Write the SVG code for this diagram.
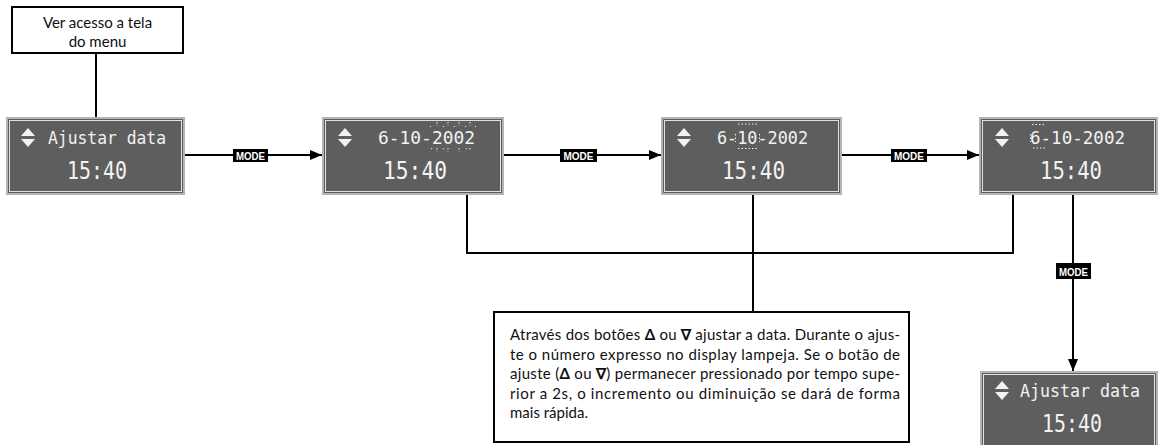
<svg xmlns="http://www.w3.org/2000/svg" width="1159" height="445" viewBox="0 0 1159 445">
<style>
.box{fill:#fff;stroke:#000;stroke-width:2}
.disp{fill:#5e5e5e;stroke:#b4b4b4;stroke-width:2}
.dispin{fill:none;stroke:#e2e2e2;stroke-width:1}
.lcd{font-family:"DejaVu Sans Mono",monospace;fill:#f2f2f2}
.l1{font-size:18px}
.l2{font-size:25px}
.line{fill:none;stroke:#000;stroke-width:2}
.mode{fill:#000}
.modet{font-family:"Liberation Sans",Arial,sans-serif;font-weight:bold;font-size:11px;fill:#fff}
.txt{font-family:Lato,"Open Sans",sans-serif;font-size:15px;fill:#111}
.note{font-family:Lato,"Open Sans",sans-serif;font-size:15px;fill:#111}
.blink{fill:none;stroke:#f2f2f2;stroke-width:1;stroke-dasharray:1.5 2}
.tri{fill:#f2f2f2}
</style>
<defs>
<marker id="ah" viewBox="0 0 12 10" refX="12" refY="5" markerWidth="12" markerHeight="10" markerUnits="userSpaceOnUse" orient="auto">
<path d="M0,0 L12,5 L0,10 Z" fill="#000"/>
</marker>
<g id="updown"><path class="tri" d="M0,8 L14,8 L7,0 Z M0,11 L14,11 L7,19 Z"/></g>
</defs>

<g id="connectors">
<path class="line" d="M96,53 V118"/>
<path class="line" d="M185,155 H322" marker-end="url(#ah)"/>
<path class="line" d="M504,155 H661" marker-end="url(#ah)"/>
<path class="line" d="M842,155 H979" marker-end="url(#ah)"/>
<path class="line" d="M467,194 V253 H1013 V194"/>
<path class="line" d="M753,194 V312"/>
<path class="line" d="M1073,194 V371" marker-end="url(#ah)"/>
<g id="mode1"><rect class="mode" x="233" y="149" width="35" height="13"/><text class="modet" x="250.5" y="160" text-anchor="middle" textLength="29" lengthAdjust="spacingAndGlyphs">MODE</text></g>
<g id="mode2"><rect class="mode" x="560" y="149" width="37" height="13"/><text class="modet" x="578.5" y="160" text-anchor="middle" textLength="30" lengthAdjust="spacingAndGlyphs">MODE</text></g>
<g id="mode3"><rect class="mode" x="891" y="149" width="36" height="13"/><text class="modet" x="909" y="160" text-anchor="middle" textLength="30" lengthAdjust="spacingAndGlyphs">MODE</text></g>
<g id="mode4"><rect class="mode" x="1056" y="263" width="35" height="16"/><text class="modet" x="1073.5" y="275.5" text-anchor="middle" textLength="29" lengthAdjust="spacingAndGlyphs">MODE</text></g>
</g>

<g id="n-menu">
<rect class="box" x="12" y="7" width="171" height="46"/>
<text class="txt" x="97.5" y="28" text-anchor="middle">Ver acesso a tela</text>
<text class="txt" x="97.5" y="47" text-anchor="middle">do menu</text>
</g>

<g id="d1">
<rect class="disp" x="7" y="118" width="177" height="76"/>
<rect class="dispin" x="9.5" y="120.5" width="172" height="71"/>
<use href="#updown" x="21" y="128"/>
<text class="lcd l1" x="48" y="144" textLength="118" lengthAdjust="spacingAndGlyphs">Ajustar data</text>
<text class="lcd l2" x="67" y="179" textLength="60" lengthAdjust="spacingAndGlyphs">15:40</text>
</g>

<g id="d2">
<rect class="disp" x="323" y="118" width="180" height="76"/>
<rect class="dispin" x="325.5" y="120.5" width="175" height="71"/>
<use href="#updown" x="338" y="128"/>
<text class="lcd l1" x="378" y="144" textLength="97" lengthAdjust="spacingAndGlyphs">6-10-2002</text>
<text class="lcd l2" x="383" y="179" textLength="64" lengthAdjust="spacingAndGlyphs">15:40</text>
<path class="blink" d="M430,126 l2,2 M437,122 v4 M444,126 l-2,2 M448,122 v4 M455,126 l-2,2 M459,122 v4 M466,126 l-2,2 M470,122 v4 M476,126 l-2,2 M432,148 l-2,3 M437,148 v4 M443,148 l2,3 M448,148 v4 M459,148 v4 M466,148 l2,3 M470,148 v3"/>
</g>

<g id="d3">
<rect class="disp" x="662" y="118" width="179" height="76"/>
<rect class="dispin" x="664.5" y="120.5" width="174" height="71"/>
<use href="#updown" x="677" y="128"/>
<text class="lcd l1" x="717" y="144" textLength="91" lengthAdjust="spacingAndGlyphs">6-10-2002</text>
<text class="lcd l2" x="722" y="179" textLength="63" lengthAdjust="spacingAndGlyphs">15:40</text>
<path class="blink" d="M738,124 H757 M738,148.5 H757 M735.5,134 v8 M759.5,134 v8"/>
</g>

<g id="d4">
<rect class="disp" x="980" y="118" width="177" height="76"/>
<rect class="dispin" x="982.5" y="120.5" width="172" height="71"/>
<use href="#updown" x="995" y="128"/>
<text class="lcd l1" x="1030" y="144" textLength="95" lengthAdjust="spacingAndGlyphs">6-10-2002</text>
<text class="lcd l2" x="1040" y="179" textLength="62" lengthAdjust="spacingAndGlyphs">15:40</text>
<path class="blink" d="M1032,124.5 H1045 M1033,148 H1046 M1030.5,134 v8"/>
</g>

<g id="d5">
<rect class="disp" x="981" y="372" width="176" height="80"/>
<rect class="dispin" x="983.5" y="374.5" width="171" height="75"/>
<use href="#updown" x="995" y="381"/>
<text class="lcd l1" x="1020" y="397" textLength="120" lengthAdjust="spacingAndGlyphs">Ajustar data</text>
<text class="lcd l2" x="1042" y="432" textLength="60" lengthAdjust="spacingAndGlyphs">15:40</text>
</g>

<g id="n-note">
<rect class="box" x="494" y="312" width="415" height="130"/>
<text class="note" x="510" y="340" textLength="390" lengthAdjust="spacing">Através dos botões <tspan font-weight="bold">Δ</tspan> ou <tspan font-weight="bold">∇</tspan> ajustar a data. Durante o ajus-</text>
<text class="note" x="510" y="359.5" textLength="390" lengthAdjust="spacing">te o número expresso no display lampeja. Se o botão de</text>
<text class="note" x="510" y="379" textLength="390" lengthAdjust="spacing">ajuste (<tspan font-weight="bold">Δ</tspan> ou <tspan font-weight="bold">∇</tspan>) permanecer pressionado por tempo supe-</text>
<text class="note" x="510" y="398.5" textLength="390" lengthAdjust="spacing">rior a 2s, o incremento ou diminuição se dará de forma</text>
<text class="note" x="510" y="418">mais rápida.</text>
</g>
</svg>
